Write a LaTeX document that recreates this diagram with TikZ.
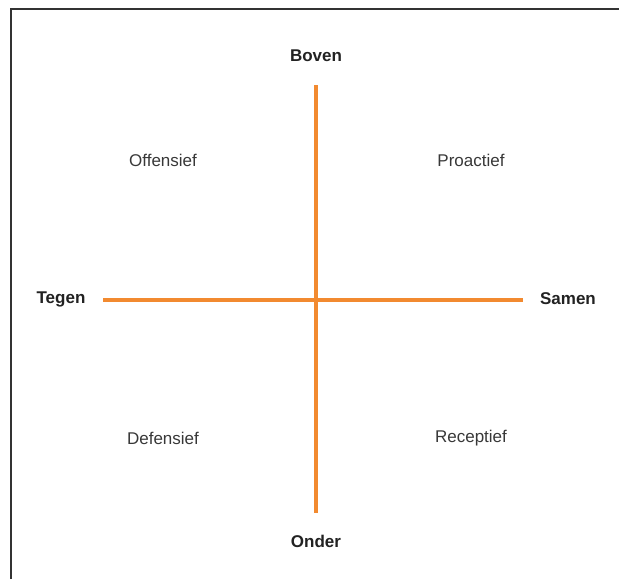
\documentclass[tikz,border=0pt]{standalone}
\usepackage{fontspec}
\setsansfont{Liberation Sans}
\usepackage{tikz}
\usetikzlibrary{positioning, calc}
\definecolor{lijnOranje}{HTML}{F28A30}
\definecolor{tekstGrijs}{HTML}{222222}
\definecolor{randGrijs}{HTML}{333333}

\begin{document}
\begin{tikzpicture}[x=1pt, y=-1pt,
        as/.style={draw=lijnOranje, line width=3.2pt},
        pool/.style={font=\sffamily\bfseries\fontsize{17}{20}\selectfont, text=tekstGrijs, inner sep=0pt},
        kwadrant/.style={font=\sffamily\fontsize{17}{20}\selectfont, text=tekstGrijs!90, inner sep=0pt},
        rand/.style={draw=randGrijs, line width=2pt}
    ]
        \useasboundingbox (0,0) rectangle (619,579);
        \draw[rand] (11,579) -- (11,9) -- (619,9);
        % assen
        \coordinate (boven) at (316,85);
        \coordinate (onder) at (316,513);
        \coordinate (links) at (103,300);
        \coordinate (rechts) at (523,300);
        \draw[as] (boven) -- (onder);
        \draw[as] (links) -- (rechts);
        % polen
        \node[pool] (nBoven) at (316,56) {Boven};
        \node[pool] (nOnder) at (316,541) {Onder};
        \node[pool] (nTegen) at (61,299) {Tegen};
        \node[pool] (nSamen) at (568,299) {Samen};
        % kwadranten
        \node[kwadrant] (offensief) at (163,160) {Offensief};
        \node[kwadrant] (proactief) at (471,160) {Proactief};
        \node[kwadrant] (defensief) at (163,438) {Defensief};
        \node[kwadrant] (receptief) at (471,438) {Receptief};
    \end{tikzpicture}
\end{document}
